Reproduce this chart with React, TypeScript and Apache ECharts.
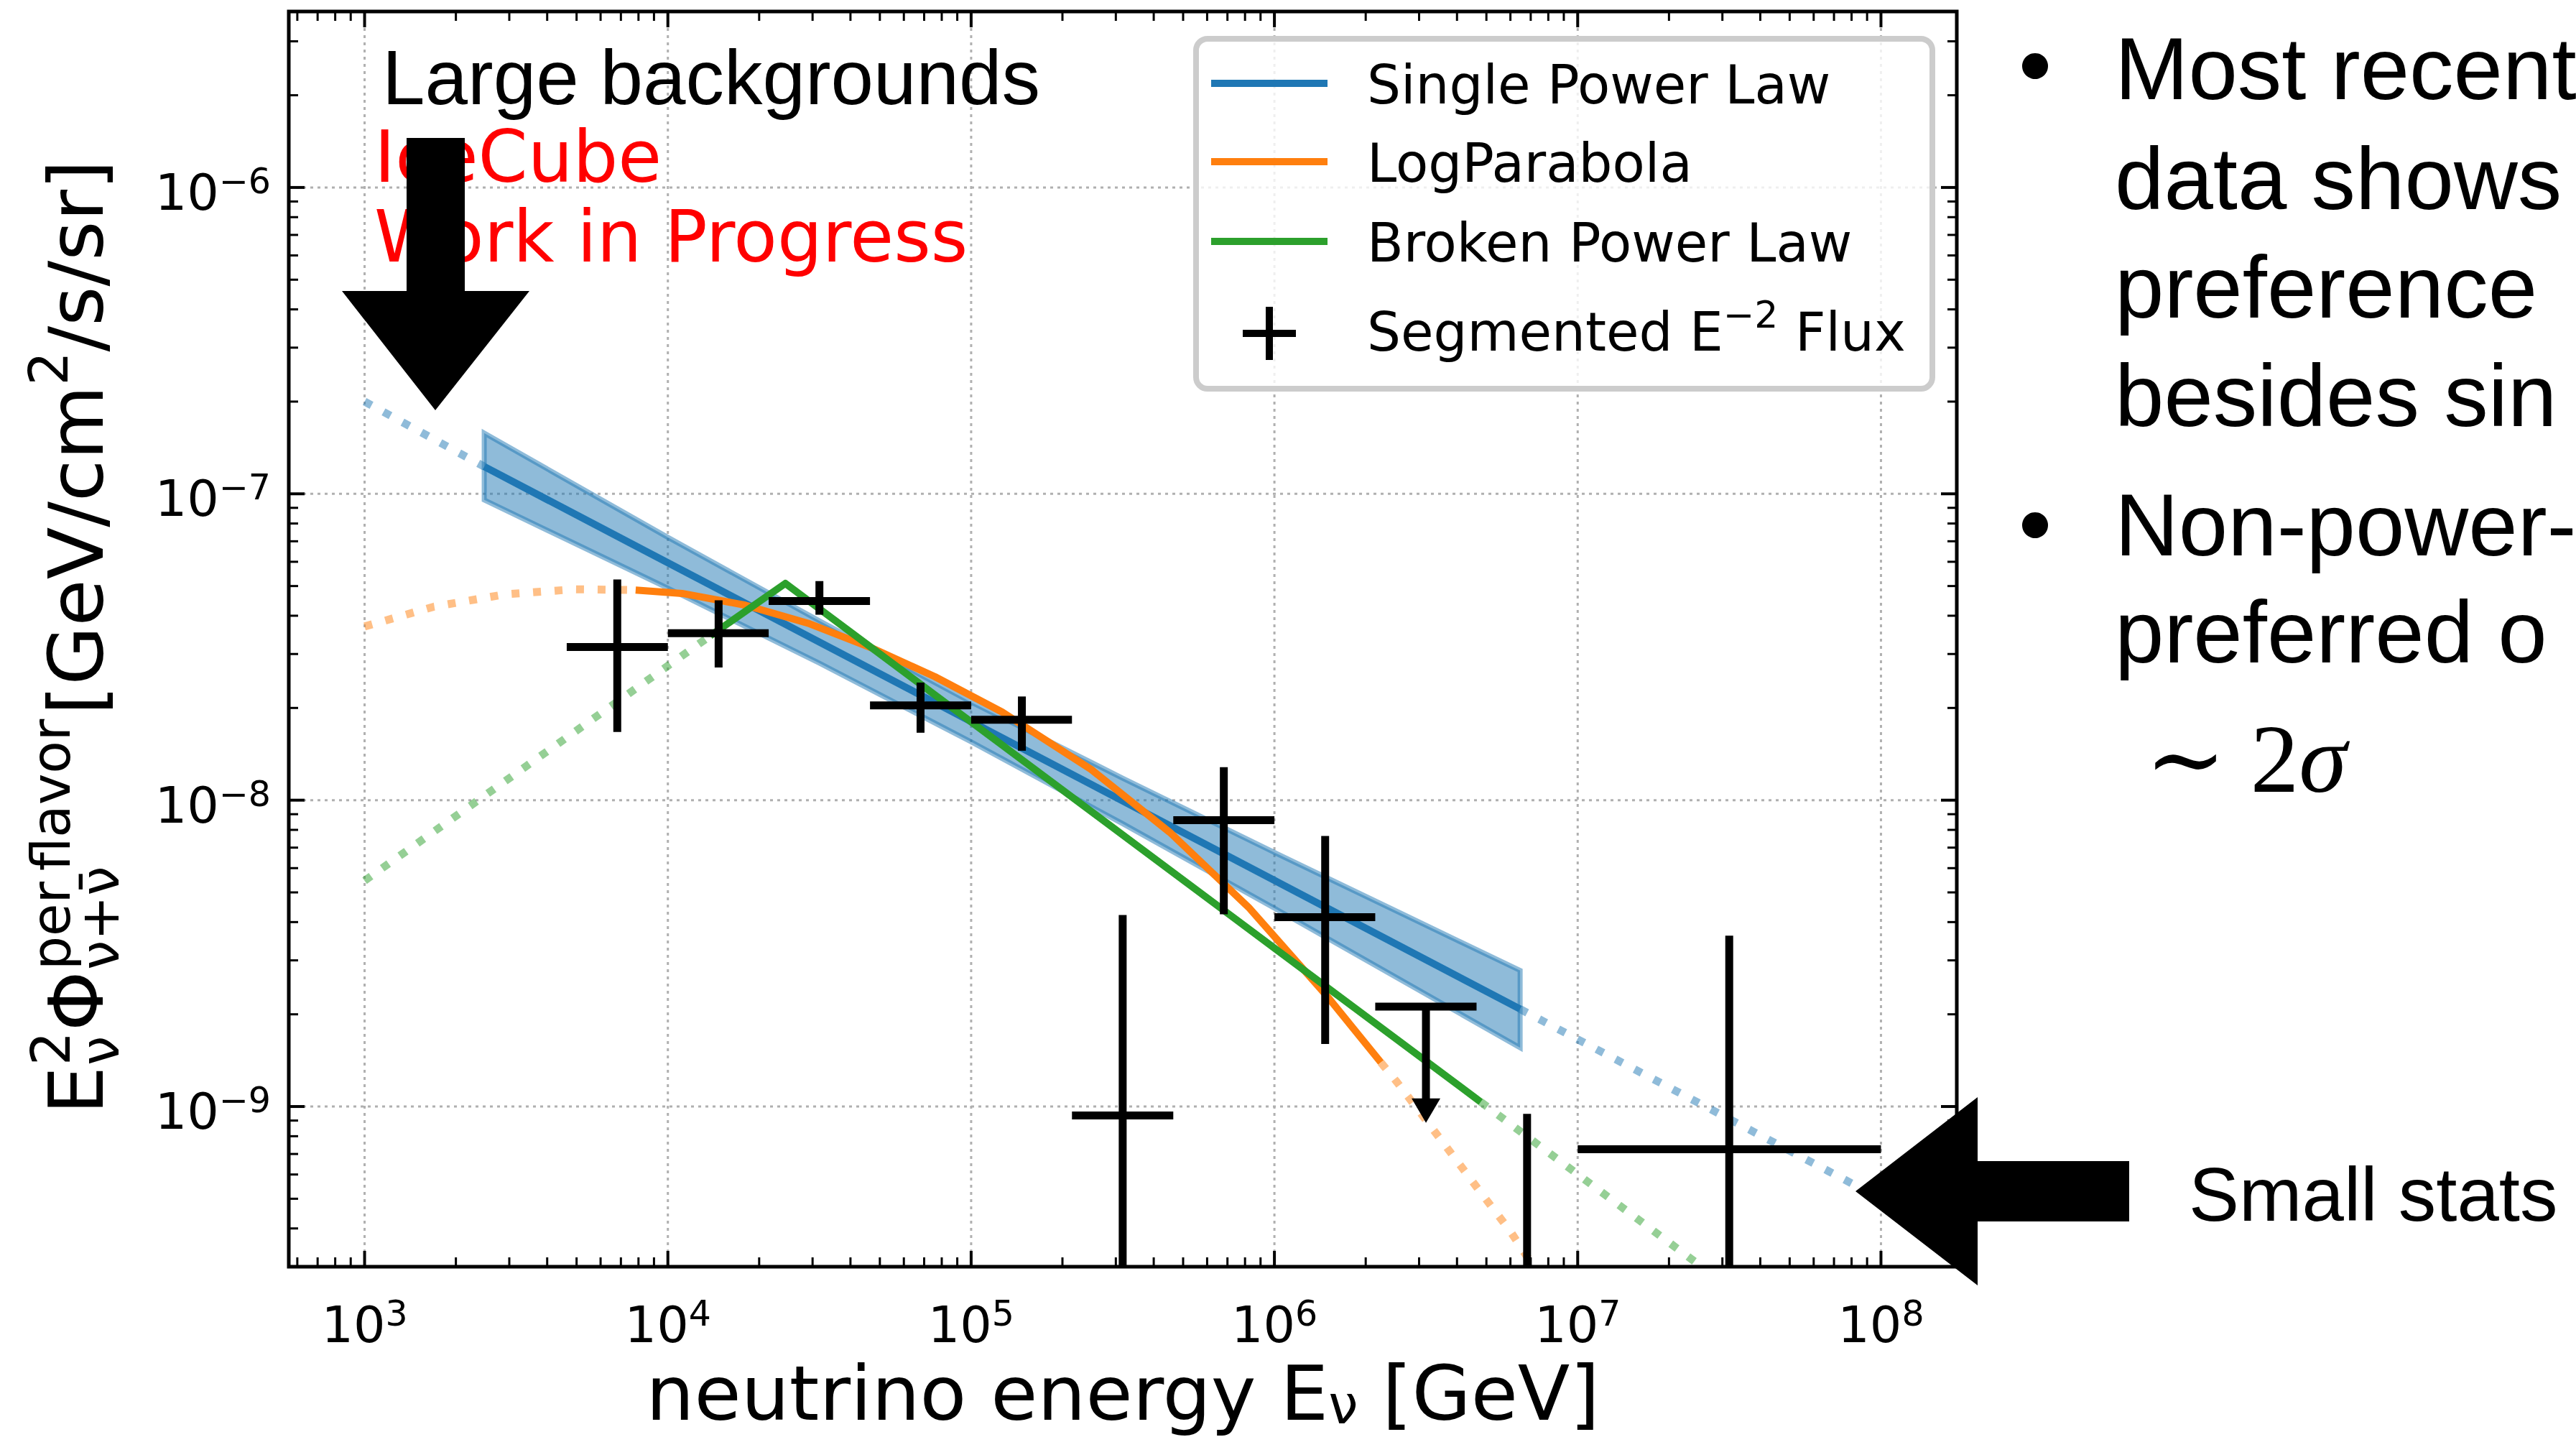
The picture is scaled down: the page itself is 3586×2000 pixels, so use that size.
import React, { useEffect, useRef } from "react";
import * as echarts from "echarts";

// ---------- axis ranges (log10 units) ----------
const X_MIN = 2.75;
const X_MAX = 8.25;
const Y_MIN = -9.5229;
const Y_MAX = -5.4256;

// ---------- tick labels ----------
const xTickExponents = [3, 4, 5, 6, 7, 8];
const yTickExponents = [-9, -8, -7, -6];
const minorMultipliers = [2, 3, 4, 5, 6, 7, 8, 9];

const seriesNames = ["Single Power Law", "LogParabola", "Broken Power Law", "Segmented E^-2 Flux"];

// ---------- Single power law (E in GeV, flux in GeV/cm2/s/sr) ----------
const splE = [2.48e3, 6.46e6];
const splFlux = [1.227e-7, 2.08e-9];
const splExtLowE = [1.0e3, 2.48e3];
const splExtLowFlux = [2.0e-7, 1.227e-7];
const splExtHighE = [6.46e6, 1.0e8];
const splExtHighFlux = [2.08e-9, 5.0e-10];

// uncertainty band of the single power law
const bandE = [2.48e3, 1.0e4, 3.16e4, 1.0e5, 3.16e5, 1.0e6, 6.46e6];
const bandUpper = [1.578e-7, 7.21e-8, 3.85e-8, 2.09e-8, 1.18e-8, 6.75e-9, 2.78e-9];
const bandLower = [9.55e-8, 4.92e-8, 2.8e-8, 1.55e-8, 8.38e-9, 4.44e-9, 1.556e-9];

// ---------- LogParabola ----------
const lpLowE = [1.0e3, 1.69e3, 2.91e3, 4.93e3, 7.83e3];
const lpLowFlux = [3.69e-8, 4.28e-8, 4.7e-8, 4.88e-8, 4.85e-8];
const lpE = [7.83e3, 1.114e4, 1.8e4, 2.9e4, 4.7e4, 7.59e4, 1.265e5, 2.49e5, 4.52e5, 8.22e5, 1.493e6, 2.244e6];
const lpFlux = [4.85e-8, 4.73e-8, 4.33e-8, 3.78e-8, 3.14e-8, 2.53e-8, 1.94e-8, 1.259e-8, 7.85e-9, 4.47e-9, 2.29e-9, 1.393e-9];
const lpHighE = [2.244e6, 2.535e6, 3.49e6, 4.82e6, 5.97e6, 7.24e6];
const lpHighFlux = [1.393e-9, 1.202e-9, 7.94e-10, 5.2e-10, 3.94e-10, 2.95e-10];

// ---------- Broken power law ----------
const bplLowE = [1.0e3, 1.38e4];
const bplLowFlux = [5.46e-9, 3.44e-8];
const bplE = [1.38e4, 2.44e4, 4.79e6];
const bplFlux = [3.44e-8, 5.1e-8, 1.035e-9];
const bplHighE = [4.79e6, 2.62e7];
const bplHighFlux = [1.035e-9, 2.95e-10];

// ---------- Segmented E^-2 flux ----------
const segCenterE = [6.81e3, 1.47e4, 3.16e4, 6.81e4, 1.47e5, 3.16e5, 6.81e5, 1.47e6, 3.16e6, 6.81e6, 3.16e7];
const segLowE = [4.64e3, 1.0e4, 2.15e4, 4.64e4, 1.0e5, 2.15e5, 4.64e5, 1.0e6, 2.15e6, 4.64e6, 1.0e7];
const segHighE = [1.0e4, 2.15e4, 4.64e4, 1.0e5, 2.15e5, 4.64e5, 1.0e6, 2.15e6, 4.64e6, 1.0e7, 1.0e8];
const segFlux = [3.16e-8, 3.51e-8, 4.47e-8, 2.04e-8, 1.83e-8, 9.35e-10, 8.6e-9, 4.15e-9, 2.12e-9, 1.5e-10, 7.25e-10];
const segFluxHigh = [5.25e-8, 4.49e-8, 5.19e-8, 2.42e-8, 2.18e-8, 4.22e-9, 1.282e-8, 7.64e-9, null, 9.46e-10, 3.61e-9];
const segFluxLow = [1.67e-8, 2.71e-8, 4.03e-8, 1.66e-8, 1.45e-8, null, 4.24e-9, 1.6e-9, null, null, null];
const segUpperLimit = [false, false, false, false, false, false, false, false, true, false, false];
const segLimitArrowTo = [null, null, null, null, null, null, null, null, 8.85e-10, null, null];

// ---------- side texts ----------
const bulletLines = ["Most recent", "data shows", "preference", "besides sin", "Non-power-", "preferred o"];
const bulletLineY = [95, 248, 399, 550, 730, 879];

// ---------- styling ----------
const BLUE = "#1f77b4";
const ORANGE = "#ff7f0e";
const GREEN = "#2ca02c";
const FONT = "DejaVu Sans";
const SANS = "Liberation Sans";

const lg = (v: number) => Math.log10(v);
const pts = (xs: number[], ys: number[]) => xs.map((x, i) => [lg(x), lg(ys[i])]);

const xTicks: { v: number; major: boolean }[] = [];
for (let n = Math.floor(X_MIN); n < Math.ceil(X_MAX); n++) {
  if (n >= X_MIN && n <= X_MAX) xTicks.push({ v: n, major: true });
  for (const k of minorMultipliers) {
    const v = n + lg(k);
    if (v > X_MIN && v < X_MAX) xTicks.push({ v, major: false });
  }
}
const yTicks: { v: number; major: boolean }[] = [];
for (let n = Math.floor(Y_MIN); n < Math.ceil(Y_MAX); n++) {
  if (n >= Y_MIN && n <= Y_MAX) yTicks.push({ v: n, major: true });
  for (const k of minorMultipliers) {
    const v = n + lg(k);
    if (v > Y_MIN && v < Y_MAX) yTicks.push({ v, major: false });
  }
}

const lineSeries = (name: string, data: number[][], color: string, dotted: boolean) => ({
  type: "line",
  name,
  data,
  symbol: "none",
  showSymbol: false,
  silent: true,
  clip: true,
  z: dotted ? 3 : 4,
  lineStyle: {
    color,
    width: dotted ? 11 : 10,
    type: dotted ? [11, 19] : "solid",
    cap: "butt",
    join: "round",
    opacity: dotted ? 0.5 : 1,
  },
  emphasis: { disabled: true },
});

const tickRich = {
  b: { fontSize: 70, fontFamily: FONT, color: "#000", lineHeight: 80 },
  s: { fontSize: 49, fontFamily: FONT, color: "#000", lineHeight: 30, verticalAlign: "top" },
};
const expLabel = (v: number) => `{b|10}{s|${v < 0 ? "\u2212" + Math.abs(v) : v}}`;

function buildOption() {
  const gridSeries = {
    type: "custom",
    silent: true,
    z: 1,
    data: [[X_MIN, Y_MIN]],
    renderItem: (_p: any, api: any) => {
      const children: any[] = [];
      const st = { stroke: "#b0b0b0", lineWidth: 3, lineDash: [4, 6] };
      for (const e of xTickExponents) {
        const a = api.coord([e, Y_MIN]);
        const b = api.coord([e, Y_MAX]);
        children.push({ type: "line", shape: { x1: a[0], y1: a[1], x2: b[0], y2: b[1] }, style: st });
      }
      for (const e of yTickExponents) {
        const a = api.coord([X_MIN, e]);
        const b = api.coord([X_MAX, e]);
        children.push({ type: "line", shape: { x1: a[0], y1: a[1], x2: b[0], y2: b[1] }, style: st });
      }
      return { type: "group", children };
    },
  };

  const bandSeries = {
    type: "custom",
    silent: true,
    z: 2,
    data: [[lg(bandE[0]), lg(bandUpper[0])]],
    renderItem: (_p: any, api: any) => {
      const upper = bandE.map((e, i) => api.coord([lg(e), lg(bandUpper[i])]));
      const lower = bandE.map((e, i) => api.coord([lg(e), lg(bandLower[i])])).reverse();
      return {
        type: "polygon",
        shape: { points: upper.concat(lower) },
        style: { fill: "rgba(31,119,180,0.5)", stroke: "rgba(31,119,180,0.5)", lineWidth: 7, lineJoin: "miter" },
      };
    },
  };

  const errSeries = {
    type: "custom",
    name: seriesNames[3],
    silent: true,
    z: 5,
    data: segCenterE.map((e, i) => [lg(e), lg(segFlux[i])]),
    renderItem: (params: any, api: any) => {
      const i = params.dataIndex;
      const cx = lg(segCenterE[i]);
      const cy = lg(segFlux[i]);
      const clampY = (v: number) => Math.min(Math.max(v, Y_MIN), Y_MAX);
      const st = { stroke: "#000", lineWidth: 11 };
      const children: any[] = [];
      if (cy >= Y_MIN) {
        const a = api.coord([lg(segLowE[i]), cy]);
        const b = api.coord([lg(segHighE[i]), cy]);
        children.push({ type: "line", shape: { x1: a[0], y1: a[1], x2: b[0], y2: b[1] }, style: st });
      }
      if (segUpperLimit[i]) {
        const top = api.coord([cx, cy]);
        const tip = api.coord([cx, lg(segLimitArrowTo[i] as number)]);
        children.push({ type: "line", shape: { x1: top[0], y1: top[1], x2: tip[0], y2: tip[1] - 30 }, style: st });
        children.push({
          type: "polygon",
          shape: { points: [[tip[0] - 20, tip[1] - 34], [tip[0] + 20, tip[1] - 34], [tip[0], tip[1]]] },
          style: { fill: "#000" },
        });
      } else {
        const hi = segFluxHigh[i];
        const lo = segFluxLow[i];
        const yTop = hi == null ? clampY(cy) : clampY(lg(hi));
        const yBot = lo == null ? Y_MIN : clampY(lg(lo));
        const a = api.coord([cx, yTop]);
        const b = api.coord([cx, yBot]);
        children.push({ type: "line", shape: { x1: a[0], y1: a[1], x2: b[0], y2: b[1] }, style: st });
      }
      return { type: "group", children };
    },
  };

  const frameSeries = {
    type: "custom",
    silent: true,
    z: 6,
    data: [[X_MIN, Y_MIN]],
    renderItem: (_p: any, api: any) => {
      const tl = api.coord([X_MIN, Y_MAX]);
      const br = api.coord([X_MAX, Y_MIN]);
      const [left, top] = tl;
      const [right, bottom] = br;
      const children: any[] = [];
      const tick = (x1: number, y1: number, x2: number, y2: number, w: number) =>
        children.push({ type: "line", shape: { x1, y1, x2, y2 }, style: { stroke: "#000", lineWidth: w } });
      for (const t of xTicks) {
        const px = api.coord([t.v, Y_MIN])[0];
        const L = t.major ? 22 : 13;
        const w = t.major ? 4 : 3;
        tick(px, bottom, px, bottom - L, w);
        tick(px, top, px, top + L, w);
      }
      for (const t of yTicks) {
        const py = api.coord([X_MIN, t.v])[1];
        const L = t.major ? 22 : 13;
        const w = t.major ? 4 : 3;
        tick(left, py, left + L, py, w);
        tick(right, py, right - L, py, w);
      }
      children.push({
        type: "rect",
        shape: { x: left, y: top, width: right - left, height: bottom - top },
        style: { fill: "none", stroke: "#000", lineWidth: 5 },
      });
      return { type: "group", children };
    },
  };

  const txt = (text: string, x: number, y: number, fontSize: number, fontFamily: string, fill = "#000", extra: any = {}) => ({
    type: "text",
    x,
    y,
    z: 50,
    silent: true,
    style: { text, fontSize, fontFamily, fill, align: "left", verticalAlign: "middle", ...extra },
  });

  // y-axis label, written along the axis (rotated group)
  const yLabelGroup = {
    type: "group",
    x: 143,
    y: 1551,
    rotation: Math.PI / 2,
    z: 50,
    silent: true,
    children: [
      txt("E", 0, -36.7, 106, FONT),
      txt("2", 68, -71.6, 74, FONT),
      txt("\u03bd", 68, -3.6, 74, FONT),
      txt("\u03a6", 116, -36.7, 106, FONT),
      txt("per\u2009flavor", 201, -71.6, 74, FONT),
      txt("\u03bd+\u03bd\u0304", 201, -3.6, 74, FONT),
      txt("{m|[GeV/cm}{s|2}{m|/s/sr]}", 556, -36.7, 106, FONT, "#000", {
        rich: {
          m: { fontSize: 106, fontFamily: FONT, fill: "#000", lineHeight: 150 },
          s: { fontSize: 74, fontFamily: FONT, fill: "#000", lineHeight: 74, verticalAlign: "top" },
        },
      }),
    ],
  };

  const legendRows = [116, 225, 336, 464];
  const legendColors = [BLUE, ORANGE, GREEN];
  const legendElements: any[] = [
    {
      type: "rect",
      z: 60,
      silent: true,
      shape: { x: 1665, y: 54, width: 1025, height: 487, r: 16 },
      style: { fill: "rgba(255,255,255,0.8)", stroke: "#cccccc", lineWidth: 8 },
    },
  ];
  legendColors.forEach((c, i) => {
    legendElements.push({
      type: "line",
      z: 61,
      silent: true,
      shape: { x1: 1686, y1: legendRows[i], x2: 1848, y2: legendRows[i] },
      style: { stroke: c, lineWidth: 10 },
    });
    legendElements.push({ ...txt(seriesNames[i], 1903, legendRows[i] + 2, 74, FONT), z: 61 });
  });
  legendElements.push({
    type: "line", z: 61, silent: true,
    shape: { x1: 1730, y1: legendRows[3], x2: 1804, y2: legendRows[3] },
    style: { stroke: "#000", lineWidth: 10 },
  });
  legendElements.push({
    type: "line", z: 61, silent: true,
    shape: { x1: 1767, y1: legendRows[3] - 37, x2: 1767, y2: legendRows[3] + 37 },
    style: { stroke: "#000", lineWidth: 10 },
  });
  legendElements.push({
    ...txt("{m|Segmented E}{s|\u22122}{m| Flux}", 1903, legendRows[3] - 2, 74, FONT, "#000", {
      rich: {
        m: { fontSize: 74, fontFamily: FONT, fill: "#000", lineHeight: 100 },
        s: { fontSize: 52, fontFamily: FONT, fill: "#000", lineHeight: 52, verticalAlign: "top" },
      },
    }),
    z: 61,
  });

  const annotations: any[] = [
    txt("Large backgrounds", 532, 108, 107, SANS),
    txt("IceCube", 521, 218, 99, FONT, "#ff0000"),
    txt("Work in Progress", 521, 329, 99, FONT, "#ff0000"),
    ...bulletLines.map((t, i) => txt(t, 2944, bulletLineY[i], 123, SANS)),
    txt("{a|\u223c}{b| 2}{c|\u03c3}", 2986, 1056, 135, "Liberation Serif", "#000", {
      rich: {
        a: { fontSize: 135, fontFamily: "DejaVu Serif", fill: "#000" },
        b: { fontSize: 135, fontFamily: "Liberation Serif", fill: "#000" },
        c: { fontSize: 135, fontFamily: "Liberation Serif", fontStyle: "italic", fill: "#000" },
      },
    }),
    txt("Small stats", 3047, 1662, 105, SANS),
    { type: "circle", z: 50, silent: true, shape: { cx: 2833, cy: 92, r: 18 }, style: { fill: "#000" } },
    { type: "circle", z: 50, silent: true, shape: { cx: 2833, cy: 731, r: 18 }, style: { fill: "#000" } },
  ];

  const arrows: any[] = [
    {
      type: "polygon",
      z: 100,
      silent: true,
      shape: { points: [[566, 192], [647, 192], [647, 405], [737, 405], [606, 571], [476, 405], [566, 405]] },
      style: { fill: "#000" },
    },
    {
      type: "polygon",
      z: 100,
      silent: true,
      shape: { points: [[2964, 1616], [2964, 1700], [2753, 1700], [2753, 1789], [2583, 1658], [2753, 1527], [2753, 1616]] },
      style: { fill: "#000" },
    },
  ];

  return {
    animation: false,
    backgroundColor: "#ffffff",
    grid: { left: 402, top: 16, width: 2322, height: 1747, show: false },
    xAxis: {
      type: "value",
      min: X_MIN,
      max: X_MAX,
      axisLine: { show: false },
      axisTick: { show: false },
      splitLine: { show: false },
      axisLabel: { customValues: xTickExponents, formatter: expLabel, rich: tickRich, margin: 41 },
      name: "{m|neutrino energy E}{sub|\u03bd}{m| [GeV]}",
      nameLocation: "middle",
      nameGap: 123,
      nameTextStyle: {
        rich: {
          m: { fontSize: 106, fontFamily: FONT, color: "#000", lineHeight: 106 },
          sub: { fontSize: 74, fontFamily: FONT, color: "#000", lineHeight: 70, verticalAlign: "bottom" },
        },
      },
    },
    yAxis: {
      type: "value",
      min: Y_MIN,
      max: Y_MAX,
      axisLine: { show: false },
      axisTick: { show: false },
      splitLine: { show: false },
      axisLabel: { customValues: yTickExponents, formatter: expLabel, rich: tickRich, margin: 25, padding: [14, 0, 0, 0] },
    },
    series: [
      gridSeries,
      bandSeries,
      lineSeries(seriesNames[0] + " ext low", pts(splExtLowE, splExtLowFlux), BLUE, true),
      lineSeries(seriesNames[0] + " ext high", pts(splExtHighE, splExtHighFlux), BLUE, true),
      lineSeries(seriesNames[1] + " ext low", pts(lpLowE, lpLowFlux), ORANGE, true),
      lineSeries(seriesNames[1] + " ext high", pts(lpHighE, lpHighFlux), ORANGE, true),
      lineSeries(seriesNames[2] + " ext low", pts(bplLowE, bplLowFlux), GREEN, true),
      lineSeries(seriesNames[2] + " ext high", pts(bplHighE, bplHighFlux), GREEN, true),
      lineSeries(seriesNames[0], pts(splE, splFlux), BLUE, false),
      lineSeries(seriesNames[1], pts(lpE, lpFlux), ORANGE, false),
      lineSeries(seriesNames[2], pts(bplE, bplFlux), GREEN, false),
      errSeries,
      frameSeries,
    ],
    graphic: { elements: [yLabelGroup, ...legendElements, ...annotations, ...arrows] },
  };
}

export default function App() {
  const ref = useRef<HTMLDivElement>(null);
  useEffect(() => {
    document.body.style.margin = "0";
    document.body.style.overflow = "hidden";
    const chart = echarts.init(ref.current as HTMLDivElement, null, { renderer: "svg", width: 3586, height: 2000 });
    chart.setOption(buildOption() as any);
    return () => chart.dispose();
  }, []);
  return <div ref={ref} style={{ width: 3586, height: 2000, background: "#ffffff" }} />;
}
